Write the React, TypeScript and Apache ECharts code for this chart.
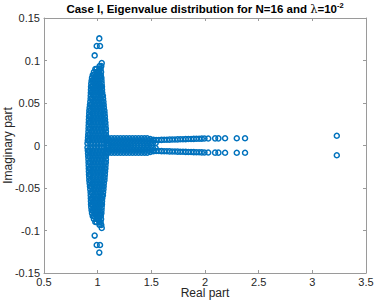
import { useEffect, useRef } from "react";
import * as echarts from "echarts";

// ---- Data ----
const titleMain = "Case I, Eigenvalue distribution for N=16 and ";
const titleSymbol = "λ";
const titleTail = "=10";
const titleExponent = "-2";
const xAxisName = "Real part";
const yAxisName = "Imaginary part";

const xTicks = [0.5, 1, 1.5, 2, 2.5, 3, 3.5];
const yTicks = [-0.15, -0.1, -0.05, 0, 0.05, 0.1, 0.15];

// Eigenvalues come in conjugate pairs: upper-half values are listed, the
// lower half is their complex conjugate.
// Vertical cluster near Re = 1 : [imag, [real parts...]]
const clusterRows: [number, number[]][] = [
  [0.0025, [0.905, 0.932, 0.958, 0.985, 1.012, 1.038, 1.062, 1.084]],
  [0.006, [0.908, 0.922, 0.949, 0.976, 1.003, 1.031, 1.057, 1.083]],
  [0.0095, [0.91, 0.937, 0.964, 0.992, 1.02, 1.047, 1.073, 1.082]],
  [0.013, [0.912, 0.926, 0.953, 0.98, 1.008, 1.035, 1.062, 1.077]],
  [0.0165, [0.914, 0.941, 0.968, 0.996, 1.023, 1.05, 1.077]],
  [0.02, [0.915, 0.928, 0.955, 0.983, 1.01, 1.037, 1.064, 1.076]],
  [0.0235, [0.916, 0.943, 0.97, 0.998, 1.025, 1.052, 1.073]],
  [0.027, [0.917, 0.93, 0.957, 0.985, 1.012, 1.04, 1.066, 1.072]],
  [0.0305, [0.918, 0.945, 0.972, 1.0, 1.027, 1.053, 1.069]],
  [0.034, [0.919, 0.932, 0.96, 0.987, 1.015, 1.041, 1.067]],
  [0.0375, [0.921, 0.948, 0.975, 1.002, 1.029, 1.054, 1.065]],
  [0.041, [0.922, 0.935, 0.962, 0.99, 1.017, 1.043, 1.063]],
  [0.0445, [0.925, 0.951, 0.978, 1.005, 1.032, 1.058]],
  [0.048, [0.928, 0.941, 0.968, 0.995, 1.021, 1.045, 1.056]],
  [0.0515, [0.931, 0.957, 0.984, 1.011, 1.037, 1.054]],
  [0.055, [0.934, 0.947, 0.974, 1.0, 1.027, 1.051]],
  [0.0585, [0.935, 0.961, 0.988, 1.015, 1.041, 1.049]],
  [0.062, [0.936, 0.949, 0.976, 1.003, 1.029, 1.043]],
  [0.0655, [0.937, 0.963, 0.99, 1.017, 1.041]],
  [0.069, [0.938, 0.951, 0.978, 1.005, 1.03, 1.04]],
  [0.0725, [0.94, 0.966, 0.993, 1.019, 1.038]],
  [0.076, [0.943, 0.956, 0.983, 1.009, 1.036]],
  [0.0795, [0.947, 0.973, 0.999, 1.024, 1.035]],
  [0.083, [0.954, 0.967, 0.992, 1.017, 1.03]],
  [0.0865, [0.965, 0.988, 1.011, 1.032]],
  [0.09, [0.978, 0.99, 1.015, 1.028]],
  [0.0935, [1.018, 1.034]],
];

// Isolated eigenvalues above the cluster: [real, imag]
const clusterTop: [number, number][] = [
  [1.038, 0.097],
  [0.972, 0.106],
  [0.991, 0.117],
  [1.022, 0.117],
  [1.015, 0.126],
];

// Horizontal band to the right of the cluster: [imag, [real parts...]]
const bandRows: [number, number[]][] = [
  [0.003, [1.095, 1.122, 1.15, 1.178, 1.206, 1.234, 1.262, 1.29, 1.318, 1.346, 1.374, 1.402, 1.43, 1.458, 1.486, 1.514, 1.54]],
  [0.0058, [1.109, 1.137, 1.165, 1.193, 1.221, 1.249, 1.277, 1.305, 1.333, 1.361, 1.389, 1.417, 1.445, 1.473, 1.501, 1.525]],
  [0.0085, [1.1, 1.128, 1.156, 1.184, 1.212, 1.24, 1.268, 1.296, 1.324, 1.352, 1.38, 1.408, 1.436, 1.462]],
];

// Real eigenvalues (imag = 0) inside the band
const realAxisValues = [1.1, 1.13, 1.16, 1.19, 1.22, 1.25, 1.28, 1.31, 1.34, 1.37, 1.4, 1.43, 1.46];

// Upper branch splitting off the band and far eigenvalues: [real, imag]
const branchPoints: [number, number][] = [
  [1.49, 0.0075], [1.52, 0.0068], [1.545, 0.0065], [1.57, 0.0065],
  [1.595, 0.0066], [1.62, 0.0067], [1.645, 0.0068], [1.67, 0.0069],
  [1.695, 0.007], [1.72, 0.0071], [1.745, 0.0072], [1.77, 0.0073],
  [1.795, 0.0074], [1.82, 0.0075], [1.845, 0.0076], [1.87, 0.0077],
  [1.895, 0.0078], [1.92, 0.0079], [1.945, 0.008], [1.97, 0.0081],
  [1.995, 0.0082], [2.03, 0.0083], [2.094, 0.0084], [2.125, 0.0084],
  [2.187, 0.0085], [2.296, 0.0085], [2.373, 0.0086], [3.228, 0.0115],
];

function buildData(): [number, number][] {
  const upper: [number, number][] = [];
  for (const [im, res] of clusterRows) for (const re of res) upper.push([re, im]);
  for (const p of clusterTop) upper.push(p);
  for (const [im, res] of bandRows) for (const re of res) upper.push([re, im]);
  for (const p of branchPoints) upper.push(p);
  const all: [number, number][] = [];
  for (const [re, im] of upper) {
    all.push([re, im]);
    all.push([re, -im]);
  }
  for (const re of realAxisValues) all.push([re, 0]);
  return all;
}

const FONT = "'Liberation Sans', Arial, Helvetica, sans-serif";
const AXIS_COLOR = "#9a9a9a";
const TEXT_COLOR = "#262626";
const MARKER_COLOR = "#0072BD";

export default function App() {
  const ref = useRef<HTMLDivElement>(null);

  useEffect(() => {
    if (!ref.current) return;
    const chart = echarts.init(ref.current, undefined, { renderer: "svg" });

    const axisLine = { show: true, onZero: false, lineStyle: { color: AXIS_COLOR, width: 1 } };
    const axisTick = { show: true, inside: true, length: 3, lineStyle: { color: AXIS_COLOR, width: 1 } };
    const fmt = (v: number) => String(Number(v.toFixed(2)));

    const xMin = xTicks[0];
    const xMax = xTicks[xTicks.length - 1];
    const xInt = xTicks[1] - xTicks[0];
    const yMin = yTicks[0];
    const yMax = yTicks[yTicks.length - 1];
    const yInt = Number((yTicks[1] - yTicks[0]).toFixed(4));

    chart.setOption({
      animation: false,
      backgroundColor: "#ffffff",
      textStyle: { fontFamily: FONT },
      graphic: [
        {
          type: "text",
          x: 205,
          y: 1.5,
          silent: true,
          style: {
            text: `{a|${titleMain}}{l|${titleSymbol}}{a|${titleTail}}{s|${titleExponent}}`,
            align: "center",
            verticalAlign: "top",
            rich: {
              a: { fontFamily: FONT, fontSize: 11.5, fontWeight: "bold", fill: "#000", lineHeight: 14 },
              l: { fontFamily: "'DejaVu Serif', 'Liberation Serif', serif", fontSize: 11.5, fill: "#000", lineHeight: 14 },
              s: { fontFamily: FONT, fontSize: 7.5, fontWeight: "bold", fill: "#000", lineHeight: 14, verticalAlign: "top" },
            },
          },
        },
      ],
      grid: { left: 44, right: 8, top: 18, bottom: 29, containLabel: false, outerBoundsMode: "none" },
      xAxis: [
        {
          type: "value",
          position: "bottom",
          min: xMin,
          max: xMax,
          interval: xInt,
          axisLine,
          axisTick,
          splitLine: { show: false },
          axisLabel: { color: TEXT_COLOR, fontSize: 11, margin: 3, fontFamily: FONT, formatter: fmt },
          name: xAxisName,
          nameLocation: "middle",
          nameGap: 14,
          nameMoveOverlap: false,
          nameTextStyle: { color: TEXT_COLOR, fontSize: 12, fontFamily: FONT },
        },
        {
          type: "value",
          position: "top",
          min: xMin,
          max: xMax,
          interval: xInt,
          axisLine,
          axisTick,
          splitLine: { show: false },
          axisLabel: { show: false },
        },
      ],
      yAxis: [
        {
          type: "value",
          position: "left",
          min: yMin,
          max: yMax,
          interval: yInt,
          axisLine,
          axisTick,
          splitLine: { show: false },
          axisLabel: { color: TEXT_COLOR, fontSize: 11, margin: 4, fontFamily: FONT, formatter: fmt },
          name: yAxisName,
          nameLocation: "middle",
          nameGap: 30,
          nameMoveOverlap: false,
          nameTextStyle: { color: TEXT_COLOR, fontSize: 12, fontFamily: FONT },
        },
        {
          type: "value",
          position: "right",
          min: yMin,
          max: yMax,
          interval: yInt,
          axisLine,
          axisTick,
          splitLine: { show: false },
          axisLabel: { show: false },
        },
      ],
      series: [
        {
          type: "scatter",
          xAxisIndex: 0,
          yAxisIndex: 0,
          data: buildData(),
          symbol: "circle",
          symbolSize: 5,
          itemStyle: { color: "rgba(0,0,0,0)", borderColor: MARKER_COLOR, borderWidth: 1.5, opacity: 1 },
          emphasis: { disabled: true },
          silent: true,
        },
      ],
    });

    return () => chart.dispose();
  }, []);

  return (
    <div
      ref={ref}
      style={{ position: "fixed", left: 0, top: 0, width: 374, height: 302, background: "#fff" }}
    />
  );
}
